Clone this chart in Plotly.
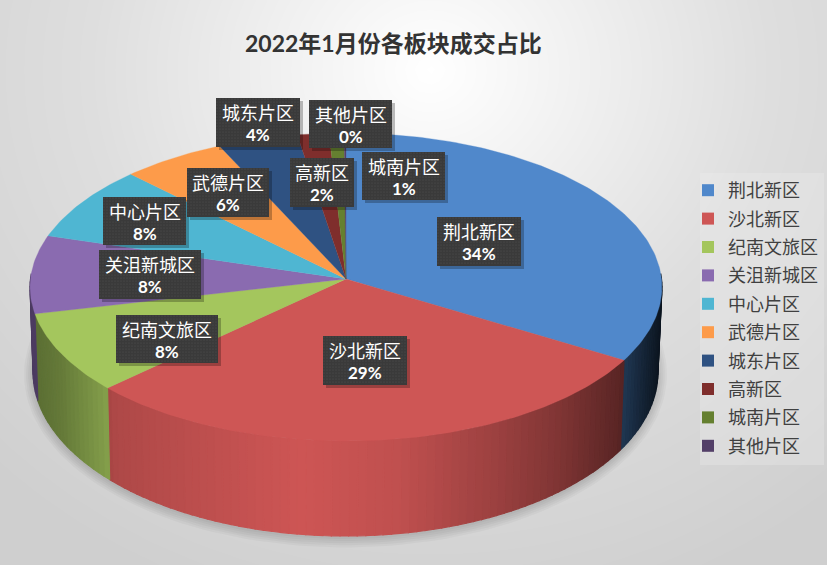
import numpy as np
import plotly.graph_objects as go

title = "2022年1月份各板块成交占比"
names = ["荆北新区", "沙北新区", "纪南文旅区", "关沮新城区", "中心片区",
         "武德片区", "城东片区", "高新区", "城南片区", "其他片区"]
shares = [33.6, 29.4, 8.4, 8.2, 7.9, 5.6, 4.3, 1.7, 0.8, 0.1]
colors = ["#5088cb", "#ce5655", "#a4c65d", "#8a6bb0", "#4fb6d2",
          "#fd9b4a", "#2f5282", "#7f2e2c", "#658030", "#533f68"]

# label boxes were dragged by hand in the original: left, right, top, bottom
boxes = [(437, 521, 217, 266), (323, 407, 336, 385), (116, 218, 315, 363),
         (99, 201, 250, 299), (103, 186, 197, 245), (187, 269, 168, 217),
         (216, 300, 98, 147), (290, 354, 158, 207), (362, 445, 152, 200),
         (309, 392, 100, 148)]

cjk = "Noto Sans CJK SC"
W, H = 827, 565

# projected pie geometry, pixels; k is the perspective of the tilted disc
k = 0.052
top = dict(cx=346, cy=279, rx=315.5, ry=153.6)
bot = dict(cx=345.5, cy=363.5, rx=312, ry=163.5)


def rim(e, deg, grow=0):
    a = np.radians(deg)
    d = 1 + k * np.cos(a)
    return e["cx"] + (e["rx"] + grow) * np.sin(a) / d, e["cy"] - (e["ry"] + grow) * np.cos(a) / d


def shade(col, f):
    r, g, b = [int(col[i:i + 2], 16) for i in (1, 3, 5)]
    return f"rgb({int(r * f)},{int(g * f)},{int(b * f)})"


fig = go.Figure()

# page background
gx = np.linspace(0, W, 70)
gy = np.linspace(0, H, 50)
xx, yy = np.meshgrid(gx, gy)
dist = np.sqrt(((xx - 430) / 620) ** 2 + ((yy - 70) / 560) ** 2)
fig.add_trace(go.Heatmap(x=gx, y=gy, z=np.clip(1 - dist, 0, 1), zmin=0, zmax=1,
                         zsmooth="best", showscale=False, hoverinfo="skip",
                         colorscale=[[0, "#cfcfcf"], [0.45, "#dedede"], [1, "#ffffff"]]))

# soft shadow under the pie
for grow in [9, 7, 5, 3, 1]:
    sx, sy = rim(bot, np.linspace(60, 300, 120), grow)
    fig.add_trace(go.Scatter(x=sx, y=sy + 2, mode="lines", fill="toself", showlegend=False,
                             fillcolor="rgba(0,0,0,0.03)", line_width=0, hoverinfo="skip"))

# cut angles of the slices
edges = np.concatenate([[0], np.cumsum(shares)]) / sum(shares) * 360

# rim, thin strips so it can carry the gradient
for i, col in enumerate(colors):
    lo, hi = max(edges[i], 88), min(edges[i + 1], 272)
    if hi <= lo:
        continue
    steps = np.arange(lo, hi, 1.5).tolist() + [hi]
    for a0, a1 in zip(steps[:-1], steps[1:]):
        tx0, ty0 = rim(top, a0)
        tx1, ty1 = rim(top, a1)
        bx0, by0 = rim(bot, a0)
        bx1, by1 = rim(bot, a1)
        f = np.interp((tx0 + tx1) / 2, [30, 60, 105, 115, 300, 400, 500, 560, 620, 640, 661],
                      [0.55, 0.62, 0.8, 0.85, 1.0, 0.93, 0.75, 0.62, 0.44, 0.3, 0.16])
        c = shade(col, f)
        fig.add_trace(go.Scatter(x=[tx0, tx1, bx1, bx0, tx0], y=[ty0, ty1, by1, by0, ty0],
                                 mode="lines", fill="toself", fillcolor=c, showlegend=False,
                                 line=dict(color=c, width=1.2), hoverinfo="skip"))

# top face
for i, col in enumerate(colors):
    a = np.linspace(edges[i], edges[i + 1], max(3, int(shares[i] * 4)))
    ax, ay = rim(top, a)
    fig.add_trace(go.Scatter(x=[top["cx"], *ax, top["cx"]], y=[top["cy"], *ay, top["cy"]],
                             mode="lines", fill="toself", fillcolor=col, showlegend=False,
                             line=dict(color=col, width=0.3), name=names[i], hoverinfo="name"))

# legend entries
for i, col in enumerate(colors):
    fig.add_trace(go.Scatter(x=[None], y=[None], mode="markers", name=names[i],
                             legendgroup=names[i],
                             marker=dict(symbol="square", size=12, color=col)))

# data label boxes with shadow and dotted fill
for b in boxes:
    l, r, t, u = b
    fig.add_trace(go.Scatter(x=[l + 3, r + 3, r + 3, l + 3, l + 3], y=[t + 3, t + 3, u + 3, u + 3, t + 3],
                             mode="lines", fill="toself", fillcolor="rgba(0,0,0,0.25)",
                             line_width=0, showlegend=False, hoverinfo="skip"))
    fig.add_trace(go.Scatter(x=[l, r, r, l, l], y=[t, t, u, u, t], mode="lines", fill="toself",
                             fillcolor="#3a3a3a", line_width=0, showlegend=False, hoverinfo="skip"))
    dx, dy = np.meshgrid(np.arange(l + 1, r, 3), np.arange(t + 1, u, 3))
    fig.add_trace(go.Scatter(x=dx.ravel(), y=dy.ravel(), mode="markers", showlegend=False,
                             marker=dict(size=1.2, color="#525252"), hoverinfo="skip"))

for i, b in enumerate(boxes):
    l, r, t, u = b
    fig.add_annotation(x=(l + r) / 2, y=t + 14, showarrow=False, text=names[i],
                       font=dict(family=cjk, size=18, color="#ffffff"))
    fig.add_annotation(x=(l + r) / 2, y=t + 36, showarrow=False, text=f"<b>{round(shares[i])}%</b>",
                       font=dict(family="Lato", size=17, color="#ffffff"))

fig.add_annotation(x=393, y=43, text=f"<b>{title}</b>", showarrow=False,
                   font=dict(family="Lato, " + cjk, size=23, color="#333333"))

# legend backdrop
fig.add_shape(type="rect", x0=700, x1=824, y0=173, y1=465, layer="above",
              fillcolor="rgba(240,240,240,0.3)", line_width=0)

fig.update_layout(
    width=W, height=H, margin=dict(l=0, r=0, t=0, b=0),
    paper_bgcolor="#ffffff", plot_bgcolor="#ffffff", hovermode="closest",
    xaxis=dict(range=[0, W], visible=False, fixedrange=True),
    yaxis=dict(range=[H, 0], visible=False, fixedrange=True),
    legend=dict(x=688 / W, y=1 - 172 / H, xanchor="left", yanchor="top", bgcolor="rgba(0,0,0,0)",
                tracegroupgap=2, font=dict(family=cjk, size=18, color="#404040")),
)

fig.write_html("out.html", config=dict(displayModeBar=False),
               post_script="document.body.style.margin='0';document.body.style.overflow='hidden';")
